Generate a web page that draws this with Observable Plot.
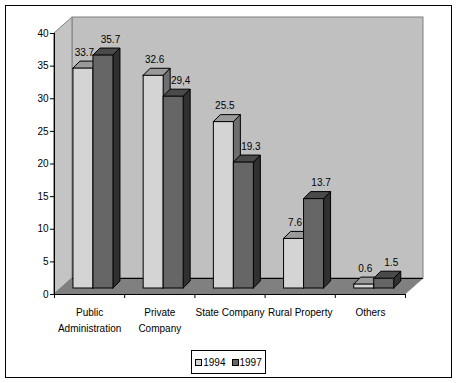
<!DOCTYPE html>
<html>
<head>
<meta charset="utf-8">
<script src="https://cdn.jsdelivr.net/npm/d3@7"></script>
<script src="https://cdn.jsdelivr.net/npm/@observablehq/plot@0.6"></script>
<style>
  html, body { margin: 0; padding: 0; background: #fff; }
  #wrap { position: relative; width: 458px; height: 383px; font-family: "Liberation Sans", Arial, sans-serif; }
  #frame { position: absolute; left: 5px; top: 5px; width: 445px; height: 371px; border: 1px solid #000; pointer-events: none; }
  #legend { position: absolute; left: 191px; top: 350px; width: 73px; height: 22px; border: 1px solid #000; background: #fff;
            font-size: 10px; display: flex; align-items: center; justify-content: center; gap: 6px; }
  #legend .it { display: flex; align-items: center; gap: 1px; }
  #legend .sw { width: 5px; height: 5px; border: 1px solid #000; display: inline-block; }
</style>
</head>
<body>
<div id="wrap">
  <div id="chart"></div>
  <div id="frame"></div>
  <div id="legend"></div>
</div>
<script>
const categories = ["Public\nAdministration", "Private\nCompany", "State Company", "Rural Property", "Others"];
const seriesNames = ["1994", "1997"];
const values1994 = [33.7, 32.6, 25.5, 7.6, 0.6];
const values1997 = [35.7, 29.4, 19.3, 13.7, 1.5];
const labels1994 = ["33.7", "32.6", "25.5", "7.6", "0.6"];
const labels1997 = ["35.7", "29,4", "19.3", "13.7", "1.5"];
const yTicks = [0, 5, 10, 15, 20, 25, 30, 35, 40];

const frontColors = ["#d4d4d4", "#666666"];
const topColors = ["#9a9a9a", "#4a4a4a"];
const sideColors = ["#6e6e6e", "#303030"];
const labelShift = [1, 7];

// layout
const W = 458, H = 383;
const mL = 54, mR = 53, mT = 33, mB = 89;
const nCat = categories.length;
const xPx = (W - mL - mR) / nCat;
const yPx = (H - mT - mB) / 40;
const wX = 18 / xPx, wY = 16 / yPx;      // wall depth
const bX = 7 / xPx, bY = 7 / yPx;        // bar depth
const bOff = 6 / yPx;                     // bar plane lift
const barStart = 0.27, barW = 0.285;

const bars = [];
categories.forEach((c, i) => {
  [values1994, values1997].forEach((arr, s) => {
    const x1 = i + barStart + s * barW;
    bars.push({id: i * 2 + s, s, x1, x2: x1 + barW, v: arr[i],
               label: (s === 0 ? labels1994 : labels1997)[i]});
  });
});
const topPts = bars.flatMap(b => [
  {id: b.id, s: b.s, y: b.v + bOff, x1: b.x1, x2: b.x2},
  {id: b.id, s: b.s, y: b.v + bOff + bY, x1: b.x1 + bX, x2: b.x2 + bX}
]);
const sidePts = bars.flatMap(b => [
  {id: b.id, s: b.s, x: b.x2, y1: bOff, y2: b.v + bOff},
  {id: b.id, s: b.s, x: b.x2 + bX, y1: bOff + bY, y2: b.v + bOff + bY}
]);
const catPos = categories.map((c, i) => ({c, x: i + 0.5}));
const xTicks = d3.range(nCat + 1);

const plot = Plot.plot({
  width: W, height: H,
  marginLeft: mL, marginRight: mR, marginTop: mT, marginBottom: mB,
  style: {fontFamily: "'Liberation Sans', Arial, sans-serif", fontSize: "10px", color: "#000", background: "transparent"},
  x: {type: "linear", domain: [0, nCat], axis: null},
  y: {type: "linear", domain: [0, 40], axis: null},
  marks: [
    // walls
    Plot.rect([{}], {x1: wX, x2: nCat + wX, y1: wY, y2: 40 + wY, fill: "#c0c0c0", stroke: "#808080"}),
    Plot.areaY([{x: 0, y1: 0, y2: 40}, {x: wX, y1: wY, y2: 40 + wY}], {x: "x", y1: "y1", y2: "y2", fill: "#c4c4c4", stroke: "#808080"}),
    Plot.areaX([{y: 0, x1: 0, x2: nCat}, {y: wY, x1: wX, x2: nCat + wX}], {y: "y", x1: "x1", x2: "x2", fill: "#808080", stroke: "#808080"}),
    Plot.ruleY([wY], {x1: wX, x2: nCat + wX, stroke: "#000"}),
    // axes
    Plot.ruleX([0], {y1: 0, y2: 40, stroke: "#000"}),
    Plot.ruleY([0], {x1: 0, x2: nCat, stroke: "#000"}),
    Plot.axisY({ticks: yTicks, tickSize: 4, tickPadding: 2, anchor: "left", fontSize: 10}),
    Plot.axisX({ticks: xTicks, tickSize: 4, tickFormat: () => "", anchor: "bottom"}),
    Plot.text(catPos, {x: "x", y: 0, text: "c", dy: 10, lineAnchor: "top", lineHeight: 1.6, fontSize: 10, fill: "#000"}),
    // bars: sides, tops, fronts
    Plot.areaY(sidePts, {x: "x", y1: "y1", y2: "y2", z: "id", fill: d => sideColors[d.s], stroke: "#000", strokeWidth: 1}),
    Plot.areaX(topPts, {y: "y", x1: "x1", x2: "x2", z: "id", fill: d => topColors[d.s], stroke: "#000", strokeWidth: 1}),
    Plot.rect(bars, {x1: "x1", x2: "x2", y1: bOff, y2: d => d.v + bOff, fill: d => frontColors[d.s], stroke: "#000", strokeWidth: 1}),
    ...[0, 1].map(s => Plot.text(bars.filter(b => b.s === s), {x: d => (d.x1 + d.x2) / 2, y: d => d.v + bOff, text: "label", dx: labelShift[s], dy: -16, fontSize: 10, fill: "#000"}))
  ]
});
document.getElementById("chart").appendChild(plot);

const legend = document.getElementById("legend");
seriesNames.forEach((n, s) => {
  const it = document.createElement("span");
  it.className = "it";
  it.innerHTML = `<span class="sw" style="background:${frontColors[s]}"></span><span>${n}</span>`;
  legend.appendChild(it);
});
</script>
</body>
</html>
